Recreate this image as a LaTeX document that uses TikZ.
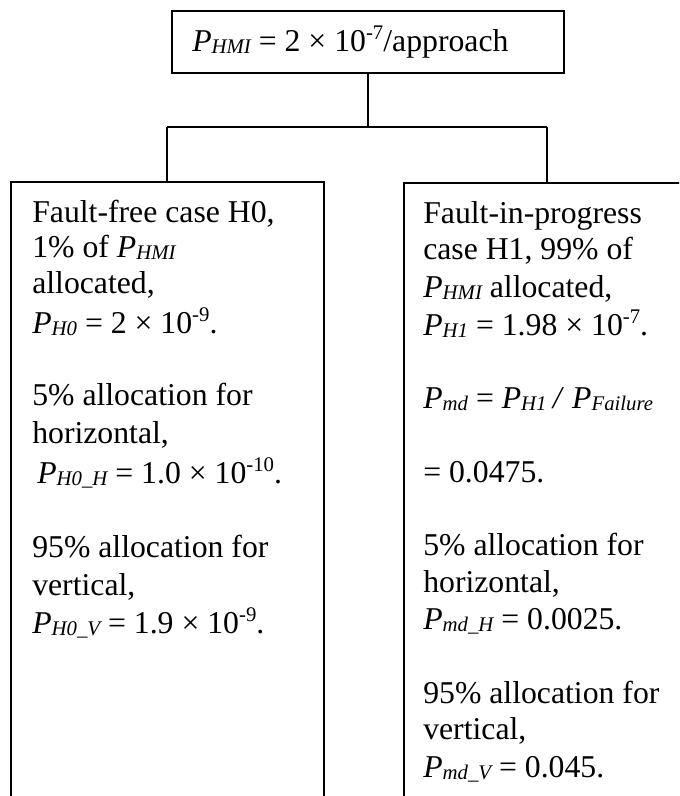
\documentclass[tikz,border=0pt]{standalone}
\usepackage{fontspec}
\setmainfont{Liberation Serif}
\newcommand\bodyfont{\fontsize{23.8pt}{27pt}\selectfont}
\newcommand\smallfont{\fontsize{15.6pt}{16pt}\selectfont}
% Word-style subscript / superscript
\newcommand\sbs[1]{\raisebox{-0.08em}{\smallfont\itshape #1}}
\newcommand\sps[1]{\raisebox{0.36em}{\smallfont #1}}
\newcommand\PP[1]{\textit{P}\sbs{#1}}
\tikzset{
  box/.style={draw, line width=1.4pt, rectangle, inner sep=0pt, anchor=north west},
  txt/.style={anchor=base west, inner sep=0pt, font=\bodyfont},
  wire/.style={line width=1.4pt},
}
\begin{document}
\begin{tikzpicture}[x=0.75pt, y=-0.75pt]
\clip (0,0) rectangle (679,796);

% boxes
\node[box, minimum width={392*0.75pt}, minimum height={62*0.75pt}] (top) at (171,10) {};
\node[box, minimum width={313*0.75pt}, minimum height={640*0.75pt}] (lbox) at (10,181) {};
\node[box, minimum width={320*0.75pt}, minimum height={640*0.75pt}] (rbox) at (403,182) {};

% tree connectors
\coordinate (jl) at (167,127);
\coordinate (jr) at (547,127);
\draw[wire] (top.south) -- (top.south |- jl);
\draw[wire] (jl) -- (jr);
\draw[wire] (jl) -- (jl |- lbox.north);
\draw[wire] (jr) -- (jr |- rbox.north);

% top text
\node[txt] (t0) at (192,51) {\PP{HMI} = 2 × 10\sps{-7}/approach};

% fault-free branch
\node[txt] (l1) at (32,222) {Fault-free case H0,};
\node[txt] (l2) at (32,257) {1\% of \PP{HMI}};
\node[txt] (l3) at (32,293) {allocated,};
\node[txt] (l4) at (32,333) {\PP{H0} = 2 × 10\sps{-9}.};
\node[txt] (l5) at (32,405) {5\% allocation for};
\node[txt] (l6) at (32,443) {horizontal,};
\node[txt] (l7) at (37,483) {\PP{H0\_H} = 1.0 × 10\sps{-10}.};
\node[txt] (l8) at (32,557) {95\% allocation for};
\node[txt] (l9) at (32,595) {vertical,};
\node[txt] (l10) at (32,633) {\PP{H0\_V} = 1.9 × 10\sps{-9}.};

% fault-in-progress branch
\node[txt] (r1) at (423,223) {Fault-in-progress};
\node[txt] (r2) at (423,259) {case H1, 99\% of};
\node[txt] (r3) at (423,297) {\PP{HMI} allocated,};
\node[txt] (r4) at (423,335) {\PP{H1} = 1.98 × 10\sps{-7}.};
\node[txt] (r5) at (423,408) {\PP{md} = \PP{H1}\hspace{0.2em}\textit{/} \PP{Failure}};
\node[txt] (r6) at (423,482) {= 0.0475.};
\node[txt] (r7) at (423,555) {5\% allocation for};
\node[txt] (r8) at (423,592) {horizontal,};
\node[txt] (r9) at (423,629) {\PP{md\_H} = 0.0025.};
\node[txt] (r10) at (423,703) {95\% allocation for};
\node[txt] (r11) at (423,739) {vertical,};
\node[txt] (r12) at (423,777) {\PP{md\_V} = 0.045.};
\end{tikzpicture}
\end{document}
